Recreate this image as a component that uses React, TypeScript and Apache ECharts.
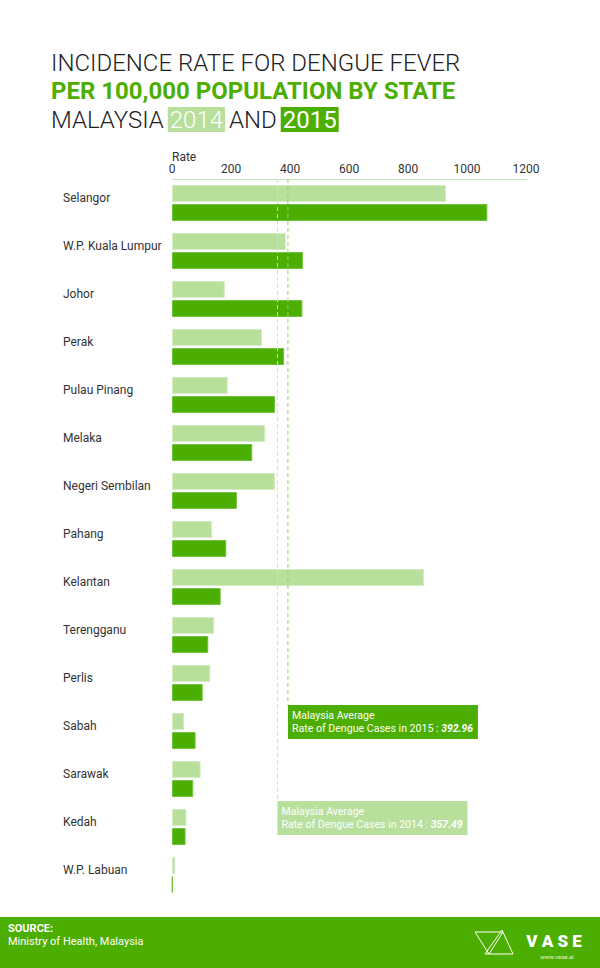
import React, { useEffect, useRef } from 'react';
import * as echarts from 'echarts';

const categories = [
  'Selangor', 'W.P. Kuala Lumpur', 'Johor', 'Perak', 'Pulau Pinang', 'Melaka',
  'Negeri Sembilan', 'Pahang', 'Kelantan', 'Terengganu', 'Perlis', 'Sabah',
  'Sarawak', 'Kedah', 'W.P. Labuan',
];
const rate2014 = [929, 386, 179, 305, 189, 316, 349, 136, 854, 143, 130, 41, 97, 49, 11];
const rate2015 = [1069, 444, 442, 380, 349, 272, 220, 184, 165, 123, 104, 80, 72, 46, 2];
const xTicks = { min: 0, max: 1200, interval: 200 };
const average2014 = 357.49;
const average2015 = 392.96;
const average2014Row = 'Kedah';
const average2015Row = 'Sabah';

const DARK = '#4cae01';
const LIGHT = '#b8df9c';
const FONT = 'Roboto';

export default function App() {
  const ref = useRef<HTMLDivElement>(null);
  useEffect(() => {
    const chart = echarts.init(ref.current!, null, { renderer: 'svg' });
    chart.setOption({
      animation: false,
      backgroundColor: '#ffffff',
      textStyle: { fontFamily: FONT },
      grid: { left: 172, right: 74, top: 179, bottom: 69, containLabel: false },
      xAxis: {
        type: 'value',
        position: 'top',
        min: xTicks.min,
        max: xTicks.max,
        interval: xTicks.interval,
        splitLine: { show: false },
        axisTick: { show: false },
        axisLine: { show: true, lineStyle: { color: '#c9e7b6', width: 1 } },
        axisLabel: {
          color: '#333', fontSize: 12, fontFamily: FONT, margin: 4,
          formatter: (v: number) => String(v),
        },
      },
      yAxis: {
        type: 'category',
        inverse: true,
        data: categories,
        axisLine: { show: false },
        axisTick: { show: false },
        axisLabel: {
          color: '#333', fontSize: 12, fontFamily: FONT, align: 'left', margin: 109,
          verticalAlign: 'bottom', lineHeight: 10,
        },
      },
      series: [
        {
          name: '2014', type: 'bar', data: rate2014, barWidth: 17, barGap: '12%',
          itemStyle: { color: LIGHT, borderColor: '#d3edc3', borderWidth: 1 },
        },
        {
          name: '2015', type: 'bar', data: rate2015, barWidth: 17,
          itemStyle: { color: DARK, borderColor: '#72c23e', borderWidth: 1 },
        },
      ],
    });

    const px = (v: number, c: string) => chart.convertToPixel({ gridIndex: 0 }, [v, c]) as number[];
    const first = px(0, categories[0]);
    const second = px(0, categories[1]);
    const band = second[1] - first[1];
    const gridTop = first[1] - band / 2;

    const annot = (avg: number, row: string, year: string, fill: string, lineColor: string) => {
      const p = px(avg, row);
      const top = p[1] - 26;
      return [
        {
          type: 'line', z: 10,
          shape: { x1: p[0], y1: gridTop, x2: p[0], y2: top },
          style: { stroke: lineColor, lineWidth: 1, lineDash: [4, 3] },
        },
        { type: 'rect', z: 11, shape: { x: p[0], y: top, width: 190, height: 34 }, style: { fill } },
        {
          type: 'text', z: 12, x: p[0] + 4, y: top + 4,
          style: {
            text: 'Malaysia Average\nRate of Dengue Cases in ' + year + ' : {v|' + avg.toFixed(2) + '}',
            fill: '#ffffff', fontSize: 10.6, fontFamily: FONT, lineHeight: 13,
            verticalAlign: 'top', align: 'left',
            rich: { v: { fill: '#ffffff', fontSize: 10.4, fontFamily: FONT, fontWeight: 'bold', fontStyle: 'italic', lineHeight: 13 } },
          },
        },
      ];
    };

    chart.setOption({
      graphic: [
        {
          type: 'text', x: 51, y: 51,
          style: { text: 'INCIDENCE RATE FOR DENGUE FEVER', fill: '#222', fontSize: 24, fontFamily: FONT, fontWeight: 300, verticalAlign: 'top' },
        },
        {
          type: 'text', x: 51, y: 79,
          style: { text: 'PER 100,000 POPULATION BY STATE', fill: DARK, fontSize: 24, fontFamily: FONT, fontWeight: 'bold', verticalAlign: 'top' },
        },
        {
          type: 'text', x: 51, y: 107,
          style: {
            text: 'MALAYSIA{s| }{a|2014}{s| }AND{s| }{b|2015}', fill: '#222', fontSize: 24, fontFamily: FONT, fontWeight: 300, verticalAlign: 'top',
            rich: {
              s: { fontSize: 16, fontFamily: FONT },
              a: { fill: '#ffffff', backgroundColor: LIGHT, padding: [1, 2, 0, 2], fontSize: 24, fontFamily: FONT, fontWeight: 300 },
              b: { fill: '#ffffff', backgroundColor: DARK, padding: [1, 2, 0, 2], fontSize: 24, fontFamily: FONT, fontWeight: 400 },
            },
          },
        },
        {
          type: 'text', x: 172, y: 157,
          style: { text: 'Rate', fill: '#333', fontSize: 12, fontFamily: FONT, verticalAlign: 'middle' },
        },
        ...annot(average2015, average2015Row, '2015', DARK, '#8fd46a'),
        ...annot(average2014, average2014Row, '2014', LIGHT, '#cdeabb'),
        { type: 'rect', shape: { x: 0, y: 917, width: 600, height: 51 }, style: { fill: DARK } },
        {
          type: 'text', x: 8, y: 923,
          style: { text: 'SOURCE:', fill: '#fff', fontSize: 11, fontFamily: FONT, fontWeight: 'bold', verticalAlign: 'top' },
        },
        {
          type: 'text', x: 8, y: 936,
          style: { text: 'Ministry of Health, Malaysia', fill: '#fff', fontSize: 11, fontFamily: FONT, verticalAlign: 'top' },
        },
        {
          type: 'polygon', shape: { points: [[475, 932], [503, 932], [489, 954]] },
          style: { fill: 'none', stroke: '#fff', lineWidth: 1 },
        },
        {
          type: 'polygon', shape: { points: [[502, 930], [485, 954], [513, 954]] },
          style: { fill: 'none', stroke: '#fff', lineWidth: 1 },
        },
        {
          type: 'text', x: 554, y: 941,
          style: { text: 'V A S E', fill: '#fff', fontSize: 17, fontFamily: FONT, fontWeight: 900, align: 'center', verticalAlign: 'middle' },
        },
        {
          type: 'text', x: 557, y: 956,
          style: { text: 'www.vase.ai', fill: '#e8f5dc', fontSize: 6, fontFamily: FONT, align: 'center', verticalAlign: 'middle' },
        },
      ],
    });
    return () => chart.dispose();
  }, []);
  return <div ref={ref} style={{ position: 'fixed', left: 0, top: 0, width: 600, height: 968 }} />;
}
